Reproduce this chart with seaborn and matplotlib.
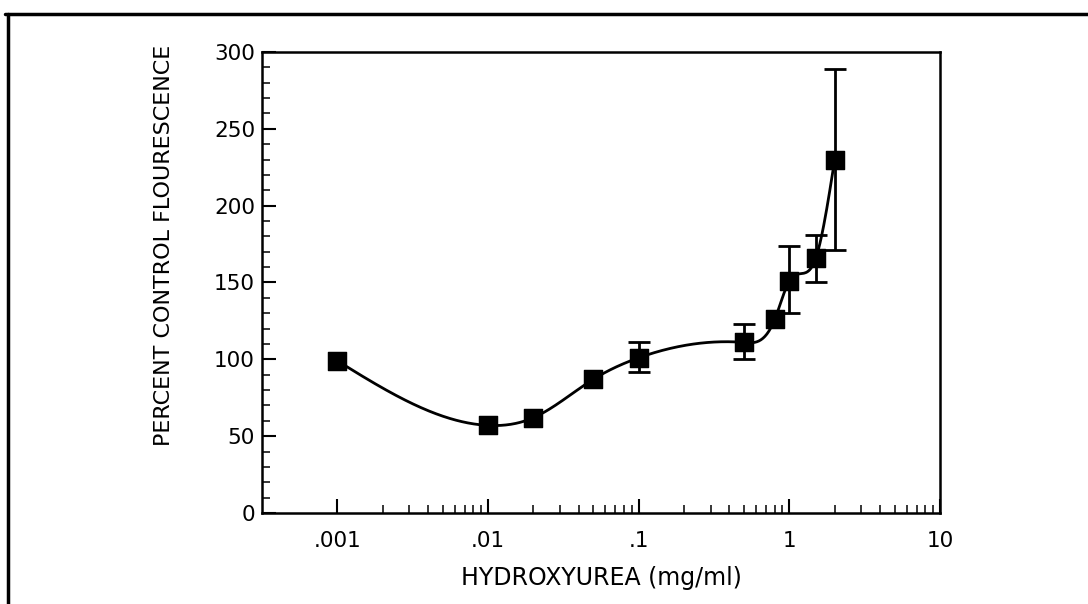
import numpy as np
import pandas as pd
import matplotlib
matplotlib.use("Agg")
import matplotlib.pyplot as plt
from matplotlib.lines import Line2D
from matplotlib.ticker import FixedLocator, FixedFormatter, MultipleLocator
import seaborn as sns

# ---- data ----
conc = [0.001, 0.01, 0.02, 0.05, 0.1, 0.5, 0.8, 1.0, 1.5, 2.0]
pct = [99, 57, 62, 87, 101, 111, 126, 151, 166, 230]
err_up = [0, 0, 0, 0, 10, 12, 0, 23, 15, 59]
err_down = [0, 0, 0, 0, 9, 11, 0, 21, 16, 59]
xtick_vals = [0.001, 0.01, 0.1, 1, 10]
xtick_labels = [".001", ".01", ".1", "1", "10"]
ytick_vals = [0, 50, 100, 150, 200, 250, 300]

sns.set_theme(style="ticks")
plt.rcParams["font.family"] = ["DejaVu Sans"]
plt.rcParams["text.color"] = "black"
plt.rcParams["axes.labelcolor"] = "black"


def natural_spline(xk, yk, xs):
    xk = np.asarray(xk, float); yk = np.asarray(yk, float)
    n = len(xk); h = np.diff(xk)
    A = np.zeros((n, n)); r = np.zeros(n)
    A[0, 0] = 1; A[-1, -1] = 1
    for i in range(1, n - 1):
        A[i, i - 1] = h[i - 1]; A[i, i] = 2 * (h[i - 1] + h[i]); A[i, i + 1] = h[i]
        r[i] = 6 * ((yk[i + 1] - yk[i]) / h[i] - (yk[i] - yk[i - 1]) / h[i - 1])
    M = np.linalg.solve(A, r)
    idx = np.clip(np.searchsorted(xk, xs) - 1, 0, n - 2)
    a = xk[idx + 1] - xs; b = xs - xk[idx]; hh = h[idx]
    return (M[idx] * a**3 / (6 * hh) + M[idx + 1] * b**3 / (6 * hh)
            + (yk[idx] / hh - M[idx] * hh / 6) * a
            + (yk[idx + 1] / hh - M[idx + 1] * hh / 6) * b)


lx = np.log10(conc)
xs = np.linspace(lx[0], lx[-1], 500)
curve = pd.DataFrame({"x": 10 ** xs, "y": natural_spline(lx, pct, xs)})
pts = pd.DataFrame({"x": conc, "y": pct})

fig = plt.figure(figsize=(10.88, 6.04), dpi=100)
ax = fig.add_axes([0.2408, 0.1507, 0.864 - 0.2408, 0.9139 - 0.1507])

sns.lineplot(data=curve, x="x", y="y", ax=ax, color="black", lw=2.0)
for xv, yv, eu, ed in zip(conc, pct, err_up, err_down):
    if eu or ed:
        ax.errorbar([xv], [yv], yerr=[[ed], [eu]], fmt="none", ecolor="black",
                    elinewidth=2.0, capsize=8, capthick=2.0)
sns.scatterplot(data=pts, x="x", y="y", ax=ax, marker="s", s=170,
                color="black", edgecolor="black", zorder=5)

ax.set_xscale("log")
ax.set_xlim(10 ** -3.5, 10)
ax.set_ylim(0, 300)

ax.xaxis.set_major_locator(FixedLocator(xtick_vals))
ax.xaxis.set_major_formatter(FixedFormatter(xtick_labels))
minors = [m * 10.0 ** e for e in range(-3, 1) for m in range(2, 10)]
ax.xaxis.set_minor_locator(FixedLocator(minors))
ax.yaxis.set_major_locator(FixedLocator(ytick_vals))
ax.yaxis.set_minor_locator(MultipleLocator(10))

ax.tick_params(axis="both", which="major", direction="in", length=10, width=1.5,
               labelsize=15.5, colors="black")
ax.tick_params(axis="x", which="major", pad=13)
ax.tick_params(axis="y", which="major", pad=5)
ax.tick_params(axis="both", which="minor", direction="in", length=6, width=1.3)
ax.tick_params(top=False, right=False, which="both")

for s in ax.spines.values():
    s.set_linewidth(1.8)
    s.set_color("black")

ax.set_xlabel("HYDROXYUREA (mg/ml)", fontsize=17, color="black")
ax.set_ylabel("PERCENT CONTROL FLOURESCENCE", fontsize=16, color="black")
ax.xaxis.set_label_coords(0.5, -0.115)
ax.yaxis.set_label_coords(-0.13, 0.58)

# outer frame (top and left edges of the scanned box)
fig.add_artist(Line2D([0.005, 1.0], [1 - 14 / 604, 1 - 14 / 604],
                      transform=fig.transFigure, color="black", lw=2.5))
fig.add_artist(Line2D([8 / 1088, 8 / 1088], [0, 1 - 14 / 604],
                      transform=fig.transFigure, color="black", lw=2.5))

fig.savefig("out.png", dpi=100, facecolor="white")
